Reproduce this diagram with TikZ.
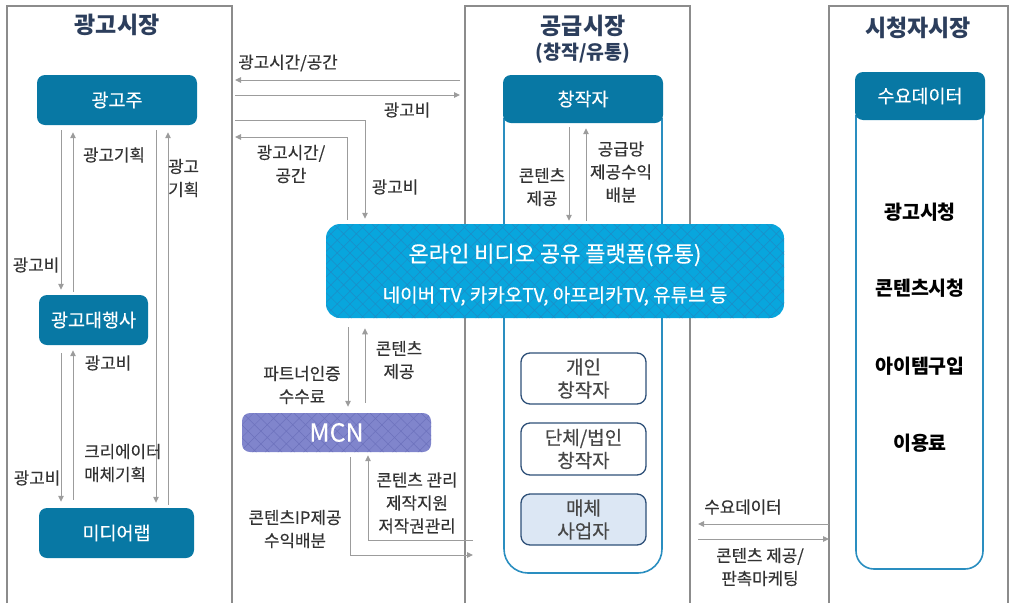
\documentclass[tikz,border=0pt]{standalone}
\usepackage{fontspec}
\setmainfont{Noto Sans CJK KR}
\newfontfamily\medf{Noto Sans CJK KR}[FakeBold=0.35]
\usetikzlibrary{arrows.meta,patterns.meta,calc}
\definecolor{hdr}{HTML}{0878A4}
\definecolor{plat}{HTML}{08A6DD}
\definecolor{platline}{HTML}{1E8CC6}
\definecolor{mcnc}{HTML}{8085CC}
\definecolor{mcnline}{HTML}{6C71BC}
\definecolor{titlec}{HTML}{2C3E5C}
\definecolor{labc}{HTML}{333333}
\definecolor{arrc}{HTML}{9C9C9C}
\definecolor{framec}{HTML}{8C8C8C}
\definecolor{outlc}{HTML}{2A8EC0}
\definecolor{smallc}{HTML}{2E5078}
\definecolor{mediafill}{HTML}{DCE7F4}
\definecolor{smalltext}{HTML}{474747}
\begin{document}
\begin{tikzpicture}[x=1pt,y=-1pt,
  frame/.style={draw=framec,line width=1.1pt},
  hdrbox/.style={fill=hdr,text=white,rounded corners=8pt,inner sep=0pt,font=\medf\fontsize{18.5}{22}\selectfont},
  title/.style={text=titlec,font=\fontsize{23}{26}\selectfont\bfseries,align=center},
  lab/.style={text=labc,font=\medf\fontsize{16.8}{23}\selectfont,align=center,inner sep=0pt},
  item/.style={text=black,font=\fontsize{19.5}{22}\selectfont\bfseries,inner sep=0pt},
  arr/.style={draw=arrc,line width=1pt,-{Triangle[length=6pt,width=5.5pt]}},
  outl/.style={draw=outlc,line width=1.6pt},
  smallbox/.style={draw=smallc,line width=1.3pt,rounded corners=9pt,minimum width=125pt,minimum height=51pt,inner sep=0pt,align=center,text=smalltext,font=\medf\fontsize{19}{23}\selectfont},
  hatch/.style={preaction={fill=#1},rounded corners=14pt,
     pattern={Lines[angle=45,distance=9pt,line width=0.5pt]},
     postaction={pattern={Lines[angle=-45,distance=9pt,line width=0.5pt]}}},
]
\useasboundingbox (0,0) rectangle (1009,603);
% panel frames
\draw[frame] (7,603) -- (7,6) -- (232,6) -- (232,603);
\draw[frame] (465,603) -- (465,6) -- (690,6) -- (690,603);
\draw[frame] (829,603) -- (829,6) -- (1008,6) -- (1008,603);
\coordinate (Lr) at (232,0);
\coordinate (Ml) at (465,0);
\coordinate (Mr) at (690,0);
\coordinate (Rl) at (829,0);

% titles
\node[title] (t1) at (117,25) {광고시장};
\node[title] (t2) at (583,26) {공급시장};
\node[text=titlec,font=\fontsize{19.5}{22}\selectfont\bfseries] (t2b) at (583,53) {(창작/유통)};
\node[title] (t3) at (918,28) {시청자시장};

% outline boxes
\draw[outl,rounded corners=24pt] (504,118) -- (504,573) -- (662,573) -- (662,118);
\draw[outl,rounded corners=18pt] (856,115) -- (856,569) -- (983,569) -- (983,115);

% left nodes
\node[hdrbox,minimum width=160pt,minimum height=50pt] (ad) at (117,100) {광고주};
\node[hdrbox,minimum width=109pt,minimum height=50pt] (agency) at (93.5,320) {광고대행사};
\node[hdrbox,minimum width=155pt,minimum height=50pt] (media) at (116.5,533) {미디어랩};

% supply nodes
\node[hdrbox,minimum width=160pt,minimum height=48pt] (creator) at (583,99) {창작자};
\node[smallbox] (indiv) at (583.5,378.5) {개인\\창작자};
\node[smallbox,minimum height=52pt] (group) at (583.5,449) {단체/법인\\창작자};
\node[smallbox,fill=mediafill] (mediabiz) at (583.5,519.5) {매체\\사업자};

% viewer nodes
\node[hdrbox,minimum width=130pt,minimum height=48pt] (demand) at (920,96) {수요데이터};
\node[item] (v1) at (920,212) {광고시청};
\node[item] (v2) at (920,288) {콘텐츠시청};
\node[item] (v3) at (920,366) {아이템구입};
\node[item] (v4) at (920,443) {이용료};

% platform and MCN
\node[hatch=plat,pattern color=platline,minimum width=458pt,minimum height=94pt,inner sep=0pt] (plat) at (555,271) {};
\node[text=white,font=\medf\fontsize{22}{24}\selectfont] (platt1) at (555,255) {온라인 비디오 공유 플랫폼(유통)};
\node[text=white,font=\medf\fontsize{19}{22}\selectfont] (platt2) at (555,296) {네이버 TV, 카카오TV, 아프리카TV, 유튜브 등};
\node[hatch=mcnc,pattern color=mcnline,rounded corners=8pt,minimum width=189pt,minimum height=39pt,inner sep=0pt,text=white,font=\medf\fontsize{25}{26}\selectfont] (mcn) at (336.5,432.5) {MCN};

% left column arrows
\draw[arr,shorten <=5pt,shorten >=5pt] (61,0 |- ad.south) -- (61,0 |- agency.north);
\draw[arr,shorten <=3pt,shorten >=7pt] (73,0 |- agency.north) -- (73,0 |- ad.south);
\draw[arr,shorten <=5pt,shorten >=5pt] (156,0 |- ad.south) -- (156,0 |- media.north);
\draw[arr,shorten <=3pt,shorten >=7pt] (168,0 |- media.north) -- (168,0 |- ad.south);
\draw[arr,shorten <=8pt,shorten >=6pt] (61,0 |- agency.south) -- (61,0 |- media.north);
\draw[arr,shorten <=8pt,shorten >=5pt] (73,0 |- media.north) -- (73,0 |- agency.south);
\node[lab] (l1) at (36,265) {광고비};
\node[lab] (l2) at (114,155) {광고기획};
\node[lab,align=left,anchor=west] (l3) at (168,178) {광고\\기획};
\node[lab] (l4) at (108,363) {광고비};
\node[lab] (l5) at (37,478) {광고비};
\node[lab,align=left,anchor=west] (l6) at (84,463) {크리에이터\\매체기획};

% middle arrows
\draw[arr,shorten <=5pt,shorten >=3pt] (Ml |- 0,80) -- (Lr |- 0,80);
\draw[arr,shorten <=3pt,shorten >=5pt] (Lr |- 0,95) -- (Ml |- 0,95);
\node[lab] (m1) at (288,63) {광고시간/공간};
\node[lab] (m2) at (407,110) {광고비};
\draw[arr,shorten <=3pt,shorten >=5pt] (Lr |- 0,120) -| (365,0 |- plat.north);
\draw[arr,shorten <=4pt,shorten >=3pt] (347,0 |- plat.north) |- (Lr |- 0,137);
\node[lab] (m3) at (291,164) {광고시간/\\공간};
\node[lab] (m4) at (395,187) {광고비};

% creator <-> platform
\draw[arr,shorten <=4pt,shorten >=3pt] (569,0 |- creator.south) -- (569,0 |- plat.north);
\draw[arr,shorten <=3pt,shorten >=5pt] (586,0 |- plat.north) -- (586,0 |- creator.south);
\node[lab] (c1) at (542,187) {콘텐츠\\제공};
\node[lab] (c2) at (621,172) {공급망\\제공수익\\배분};

% platform <-> MCN
\draw[arr,shorten <=9pt,shorten >=6pt] (348,0 |- plat.south) -- (348,0 |- mcn.north);
\draw[arr,shorten <=10pt,shorten >=10pt] (365,0 |- mcn.north) -- (365,0 |- plat.south);
\node[lab] (p1) at (302,385) {파트너인증\\수수료};
\node[lab] (p2) at (399,360) {콘텐츠\\제공};

% MCN <-> supply
\coordinate (mout) at (473,555);
\coordinate (min) at (473,540);
\draw[arr,shorten <=5pt] (350,0 |- mcn.south) |- (mout);
\draw[arr,shorten >=3pt] (min) -| (368,0 |- mcn.south);
\node[lab] (q1) at (295,529) {콘텐츠IP제공\\수익배분};
\node[lab] (q2) at (417,503) {콘텐츠 관리\\제작지원\\저작권관리};

% supply <-> viewers
\coordinate (dl) at (698,524);
\coordinate (cr) at (698,539);
\draw[arr] (Rl |- 0,524) -- (dl);
\draw[arr] (cr) -- (Rl |- 0,539);
\node[lab] (r1) at (743,507) {수요데이터};
\node[lab] (r2) at (760,567) {콘텐츠 제공/\\판촉마케팅};
\end{tikzpicture}
\end{document}
